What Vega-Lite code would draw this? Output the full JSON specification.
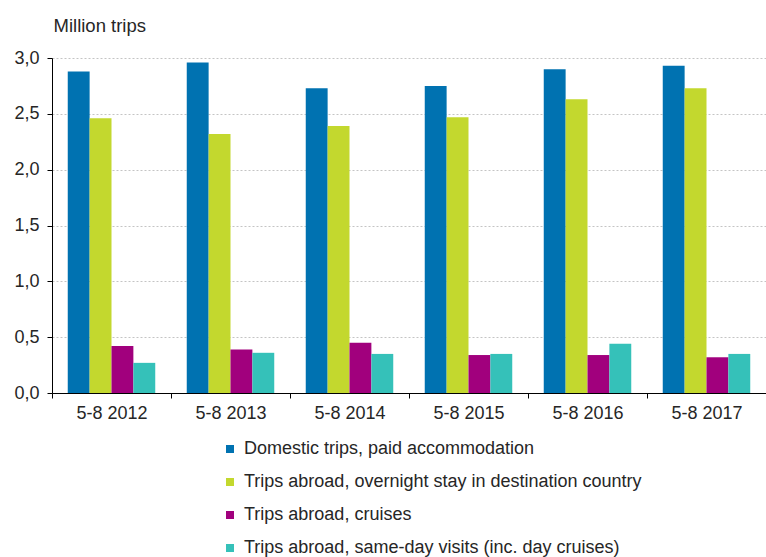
{
  "$schema": "https://vega.github.io/schema/vega-lite/v6.json",
  "width": 714,
  "height": 335,
  "autosize": {"type": "none"},
  "padding": {"left": 52, "top": 58, "right": 0, "bottom": 164},
  "config": {
    "font": "Liberation Sans",
    "view": {"stroke": null},
    "axis": {"labelColor": "#262626", "titleColor": "#262626"}
  },
  "data": {
    "values": [
      {"period": "5-8 2012", "series": "Domestic trips, paid accommodation", "value": 2.88},
      {"period": "5-8 2012", "series": "Trips abroad, overnight stay in destination country", "value": 2.46},
      {"period": "5-8 2012", "series": "Trips abroad, cruises", "value": 0.42},
      {"period": "5-8 2012", "series": "Trips abroad, same-day visits (inc. day cruises)", "value": 0.27},
      {"period": "5-8 2013", "series": "Domestic trips, paid accommodation", "value": 2.96},
      {"period": "5-8 2013", "series": "Trips abroad, overnight stay in destination country", "value": 2.32},
      {"period": "5-8 2013", "series": "Trips abroad, cruises", "value": 0.39},
      {"period": "5-8 2013", "series": "Trips abroad, same-day visits (inc. day cruises)", "value": 0.36},
      {"period": "5-8 2014", "series": "Domestic trips, paid accommodation", "value": 2.73},
      {"period": "5-8 2014", "series": "Trips abroad, overnight stay in destination country", "value": 2.39},
      {"period": "5-8 2014", "series": "Trips abroad, cruises", "value": 0.45},
      {"period": "5-8 2014", "series": "Trips abroad, same-day visits (inc. day cruises)", "value": 0.35},
      {"period": "5-8 2015", "series": "Domestic trips, paid accommodation", "value": 2.75},
      {"period": "5-8 2015", "series": "Trips abroad, overnight stay in destination country", "value": 2.47},
      {"period": "5-8 2015", "series": "Trips abroad, cruises", "value": 0.34},
      {"period": "5-8 2015", "series": "Trips abroad, same-day visits (inc. day cruises)", "value": 0.35},
      {"period": "5-8 2016", "series": "Domestic trips, paid accommodation", "value": 2.9},
      {"period": "5-8 2016", "series": "Trips abroad, overnight stay in destination country", "value": 2.63},
      {"period": "5-8 2016", "series": "Trips abroad, cruises", "value": 0.34},
      {"period": "5-8 2016", "series": "Trips abroad, same-day visits (inc. day cruises)", "value": 0.44},
      {"period": "5-8 2017", "series": "Domestic trips, paid accommodation", "value": 2.93},
      {"period": "5-8 2017", "series": "Trips abroad, overnight stay in destination country", "value": 2.73},
      {"period": "5-8 2017", "series": "Trips abroad, cruises", "value": 0.32},
      {"period": "5-8 2017", "series": "Trips abroad, same-day visits (inc. day cruises)", "value": 0.35}
    ]
  },
  "mark": {"type": "bar"},
  "encoding": {
    "x": {
      "field": "period",
      "type": "nominal",
      "sort": null,
      "scale": {"paddingInner": 0, "paddingOuter": 0},
      "axis": {
        "title": null,
        "tickBand": "extent",
        "labelAngle": 0,
        "labelFontSize": 18,
        "labelPadding": 6,
        "tickSize": 5,
        "domainColor": "#000000",
        "tickColor": "#000000",
        "grid": false
      }
    },
    "xOffset": {
      "field": "series",
      "type": "nominal",
      "sort": [
        "Domestic trips, paid accommodation",
        "Trips abroad, overnight stay in destination country",
        "Trips abroad, cruises",
        "Trips abroad, same-day visits (inc. day cruises)"
      ],
      "scale": {"paddingOuter": 0.72, "paddingInner": 0}
    },
    "y": {
      "field": "value",
      "type": "quantitative",
      "scale": {"domain": [0, 3], "nice": false},
      "axis": {
        "values": [0, 0.5, 1, 1.5, 2, 2.5, 3],
        "labelExpr": "replace(format(datum.value, '.1f'), '.', ',')",
        "labelFontSize": 18,
        "labelPadding": 8,
        "tickSize": 5,
        "domainColor": "#000000",
        "tickColor": "#000000",
        "gridColor": "#c4c4c4",
        "gridDash": [2, 2],
        "title": "Million trips",
        "titleAngle": 0,
        "titleAlign": "left",
        "titleBaseline": "alphabetic",
        "titleX": 1,
        "titleY": -27,
        "titleFontSize": 18.5,
        "titleFontWeight": "normal"
      }
    },
    "color": {
      "field": "series",
      "type": "nominal",
      "sort": [
        "Domestic trips, paid accommodation",
        "Trips abroad, overnight stay in destination country",
        "Trips abroad, cruises",
        "Trips abroad, same-day visits (inc. day cruises)"
      ],
      "scale": {
        "domain": [
          "Domestic trips, paid accommodation",
          "Trips abroad, overnight stay in destination country",
          "Trips abroad, cruises",
          "Trips abroad, same-day visits (inc. day cruises)"
        ],
        "range": ["#0072b1", "#c3d82e", "#a1007d", "#35c1b9"]
      },
      "legend": {
        "title": null,
        "orient": "none",
        "legendX": 169,
        "legendY": 382,
        "padding": 0,
        "symbolType": "square",
        "symbolSize": 64,
        "symbolStrokeWidth": 0,
        "labelFontSize": 18,
        "labelColor": "#262626",
        "labelOffset": 5,
        "labelLimit": 700,
        "rowPadding": 15
      }
    }
  }
}
